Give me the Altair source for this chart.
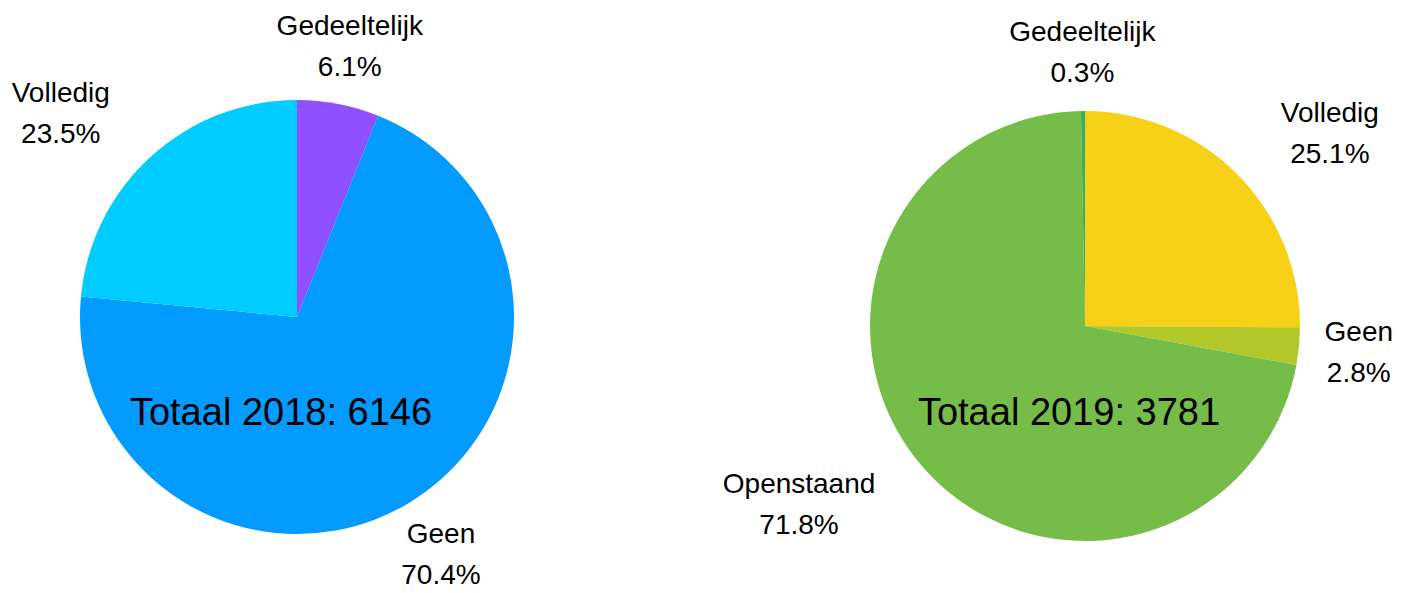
import math
import altair as alt
import pandas as pd

# ---- data ----
years = [2018, 2019]
totals = [6146, 3781]

cats_2018 = ["Gedeeltelijk", "Geen", "Volledig"]
pcts_2018 = [6.1, 70.4, 23.5]
colors_2018 = ["#9150FF", "#039BFF", "#00CCFF"]

cats_2019 = ["Volledig", "Geen", "Openstaand", "Gedeeltelijk"]
pcts_2019 = [25.1, 2.8, 71.8, 0.3]
colors_2019 = ["#F7D117", "#B2C82A", "#75BC48", "#3AAE5C"]

# ---- layout / style ----
W, H = 1390, 585
FONT = "Liberation Sans"
LABEL_SIZE = 28
LINE_H = 41
TOTAL_SIZE = 38
LABEL_OFFSET = 60      # label anchor distance outside the pie edge
HALF_BLOCK = 33        # half height of a two-line label
TOTAL_Y = 406

# approximate Arial/Liberation advance widths (em) for label-size estimation
EM = {"G": .778, "O": .778, "V": .667, "l": .222, "i": .222, "j": .222, "t": .278,
      "k": .5, "s": .5, ".": .278, "%": .889}


def text_w(s):
    return sum(EM.get(ch, .556) for ch in s) * LABEL_SIZE


pies = [
    dict(cats=cats_2018, pcts=pcts_2018, colors=colors_2018, cx=289, cy=309, r=217,
         year=years[0], total=totals[0]),
    dict(cats=cats_2019, pcts=pcts_2019, colors=colors_2019, cx=1077, cy=318, r=215,
         year=years[1], total=totals[1]),
]

theta_scale = alt.Scale(domain=[0, 100], range=[0, 2 * math.pi])

layers = []
for p in pies:
    rows = []
    cum = 0.0
    R = p["r"]
    for c, v in zip(p["cats"], p["pcts"]):
        start, end = cum, cum + v
        cum = end
        mid = (start + end) / 2
        a = mid / 100 * 2 * math.pi
        pct_txt = f"{v:.1f}%"
        w = max(text_w(c), text_w(pct_txt))
        ra = R + LABEL_OFFSET
        dx, dy = ra * math.sin(a), -ra * math.cos(a)
        # nearest corner of the centred label box to the pie centre
        nx = max(abs(dx) - w / 2, 0)
        ny = max(abs(dy) - HALF_BLOCK, 0)
        if math.hypot(nx, ny) < R + 5:
            # label would touch the pie: align its near edge with the anchor
            dx += math.copysign(w / 2, math.sin(a))
        rl = math.hypot(dx, dy)
        th = (math.degrees(math.atan2(dx, -dy)) % 360) / 360 * 100
        rows.append(dict(cat=c, start=start, end=end, th=th, rl=rl,
                         label=f"{c}\n{pct_txt}"))
    df = pd.DataFrame(rows)

    arc = alt.Chart(df).mark_arc(radius=R, stroke=None).encode(
        theta=alt.Theta("start:Q", scale=theta_scale),
        theta2="end:Q",
        color=alt.Color("cat:N", scale=alt.Scale(domain=p["cats"], range=p["colors"]), legend=None),
        x=alt.value(p["cx"]),
        y=alt.value(p["cy"]),
    )
    labels = alt.Chart(df).mark_text(
        font=FONT, fontSize=LABEL_SIZE, lineHeight=LINE_H, lineBreak="\n",
        align="center", baseline="middle", color="black", dy=-LINE_H / 2 + 2,
    ).encode(
        theta=alt.Theta("th:Q", scale=theta_scale),
        radius=alt.Radius("rl:Q", scale=None),
        text="label:N",
        x=alt.value(p["cx"]),
        y=alt.value(p["cy"]),
    )
    tdf = pd.DataFrame({"t": [f"Totaal {p['year']}: {p['total']}"]})
    total = alt.Chart(tdf).mark_text(
        font=FONT, fontSize=TOTAL_SIZE, align="center", baseline="middle", color="black",
    ).encode(
        text="t:N",
        x=alt.value(p["cx"] - 16),
        y=alt.value(TOTAL_Y),
    )
    layers += [arc, labels, total]

chart = alt.layer(*layers).resolve_scale(color="independent").properties(
    width=W, height=H, padding=0, autosize="none"
).configure_view(stroke=None)

chart.save("out.html", embed_options={"renderer": "svg", "actions": False})
